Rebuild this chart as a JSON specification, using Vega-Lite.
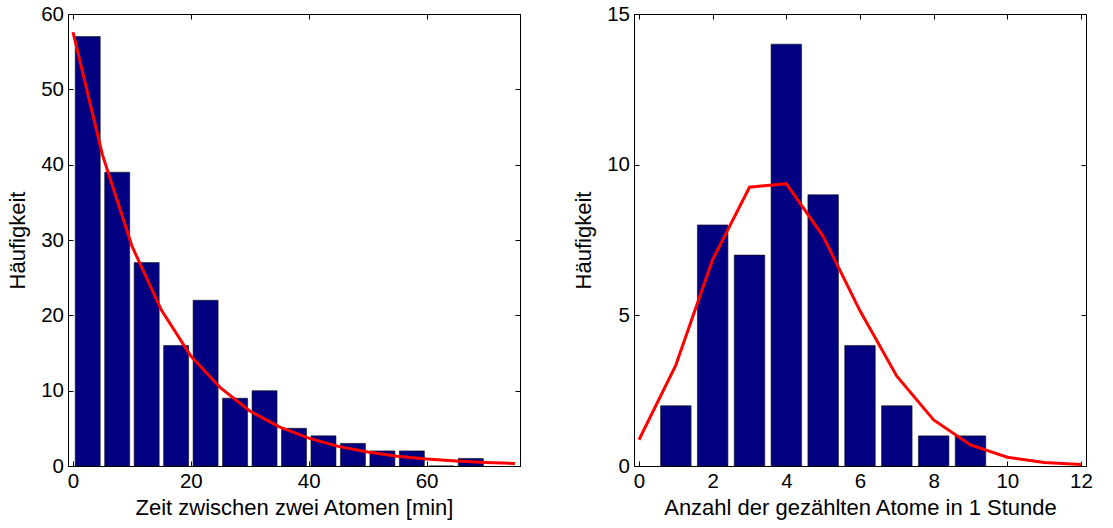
{
  "$schema": "https://vega.github.io/schema/vega-lite/v6.json",
  "padding": {"left": 6, "top": 3, "right": 5, "bottom": 5},
  "background": "white",
  "datasets": {
    "zeit": [
      {"t": 2.5, "n": 57}, {"t": 7.5, "n": 39}, {"t": 12.5, "n": 27}, {"t": 17.5, "n": 16},
      {"t": 22.5, "n": 22}, {"t": 27.5, "n": 9}, {"t": 32.5, "n": 10}, {"t": 37.5, "n": 5},
      {"t": 42.5, "n": 4}, {"t": 47.5, "n": 3}, {"t": 52.5, "n": 2}, {"t": 57.5, "n": 2},
      {"t": 62.5, "n": 0}, {"t": 67.5, "n": 1}
    ],
    "zeitfit": [
      {"t": 0, "f": 57.6}, {"t": 5, "f": 41.3}, {"t": 10, "f": 29.2}, {"t": 15, "f": 20.7},
      {"t": 20, "f": 14.6}, {"t": 25, "f": 10.4}, {"t": 30, "f": 7.3}, {"t": 35, "f": 5.2},
      {"t": 40, "f": 3.7}, {"t": 45, "f": 2.6}, {"t": 50, "f": 1.85}, {"t": 55, "f": 1.3},
      {"t": 60, "f": 0.93}, {"t": 65, "f": 0.66}, {"t": 70, "f": 0.47}, {"t": 75, "f": 0.34}
    ],
    "anzahl": [
      {"k": 1, "n": 2}, {"k": 2, "n": 8}, {"k": 3, "n": 7}, {"k": 4, "n": 14}, {"k": 5, "n": 9},
      {"k": 6, "n": 4}, {"k": 7, "n": 2}, {"k": 8, "n": 1}, {"k": 9, "n": 1}
    ],
    "anzahlfit": [
      {"k": 0, "f": 0.87}, {"k": 1, "f": 3.35}, {"k": 2, "f": 6.85}, {"k": 3, "f": 9.25},
      {"k": 4, "f": 9.37}, {"k": 5, "f": 7.62}, {"k": 6, "f": 5.15}, {"k": 7, "f": 2.98},
      {"k": 8, "f": 1.53}, {"k": 9, "f": 0.7}, {"k": 10, "f": 0.29}, {"k": 11, "f": 0.12},
      {"k": 12, "f": 0.05}
    ]
  },
  "config": {
    "font": "Liberation Sans",
    "view": {"stroke": "black", "strokeWidth": 1},
    "axis": {
      "domainColor": "black",
      "tickColor": "black",
      "tickSize": -5,
      "labelColor": "black",
      "titleColor": "black",
      "labelFont": "Liberation Sans",
      "titleFont": "Liberation Sans",
      "labelFontSize": 20.5,
      "titleFontSize": 22,
      "titleFontWeight": "normal",
      "grid": false,
      "labelPadding": 9.5,
      "labelFlush": false,
      "labelOverlap": false
    }
  },
  "spacing": 51,
  "hconcat": [
    {
      "width": 452,
      "height": 452,
      "resolve": {"axis": {"x": "independent", "y": "independent"}},
      "layer": [
        {
          "data": {"name": "zeit"},
          "mark": {"type": "bar", "size": 25, "color": "#000080", "stroke": "#111111", "strokeWidth": 0.6},
          "encoding": {
            "x": {"field": "t", "type": "quantitative", "scale": {"domain": [0, 75], "nice": false},
                  "axis": {"orient": "bottom", "values": [0, 20, 40, 60], "title": "Zeit zwischen zwei Atomen [min]", "labelPadding": 10, "titlePadding": 6}},
            "y": {"field": "n", "type": "quantitative", "scale": {"domain": [0, 60], "nice": false},
                  "axis": {"orient": "left", "values": [0, 10, 20, 30, 40, 50, 60], "title": "Häufigkeit", "titlePadding": 11}}
          }
        },
        {
          "data": {"name": "zeitfit"},
          "mark": {"type": "line", "color": "#ff0000", "strokeWidth": 3, "clip": true},
          "encoding": {
            "x": {"field": "t", "type": "quantitative",
                  "axis": {"orient": "top", "values": [0, 20, 40, 60], "labels": false, "title": null}},
            "y": {"field": "f", "type": "quantitative",
                  "axis": {"orient": "right", "values": [0, 10, 20, 30, 40, 50, 60], "labels": false, "title": null}}
          }
        }
      ]
    },
    {
      "width": 452,
      "height": 452,
      "resolve": {"axis": {"x": "independent", "y": "independent"}},
      "layer": [
        {
          "data": {"name": "anzahl"},
          "mark": {"type": "bar", "size": 30.5, "color": "#000080", "stroke": "#111111", "strokeWidth": 0.6},
          "encoding": {
            "x": {"field": "k", "type": "quantitative", "scale": {"domain": [0, 12], "nice": false},
                  "axis": {"orient": "bottom", "values": [0, 2, 4, 6, 8, 10, 12], "title": "Anzahl der gezählten Atome in 1 Stunde", "labelPadding": 10, "titlePadding": 6}},
            "y": {"field": "n", "type": "quantitative", "scale": {"domain": [0, 15], "nice": false},
                  "axis": {"orient": "left", "values": [0, 5, 10, 15], "title": "Häufigkeit", "titlePadding": 11}}
          }
        },
        {
          "data": {"name": "anzahlfit"},
          "mark": {"type": "line", "color": "#ff0000", "strokeWidth": 3, "clip": true},
          "encoding": {
            "x": {"field": "k", "type": "quantitative",
                  "axis": {"orient": "top", "values": [0, 2, 4, 6, 8, 10, 12], "labels": false, "title": null}},
            "y": {"field": "f", "type": "quantitative",
                  "axis": {"orient": "right", "values": [0, 5, 10, 15], "labels": false, "title": null}}
          }
        }
      ]
    }
  ]
}
